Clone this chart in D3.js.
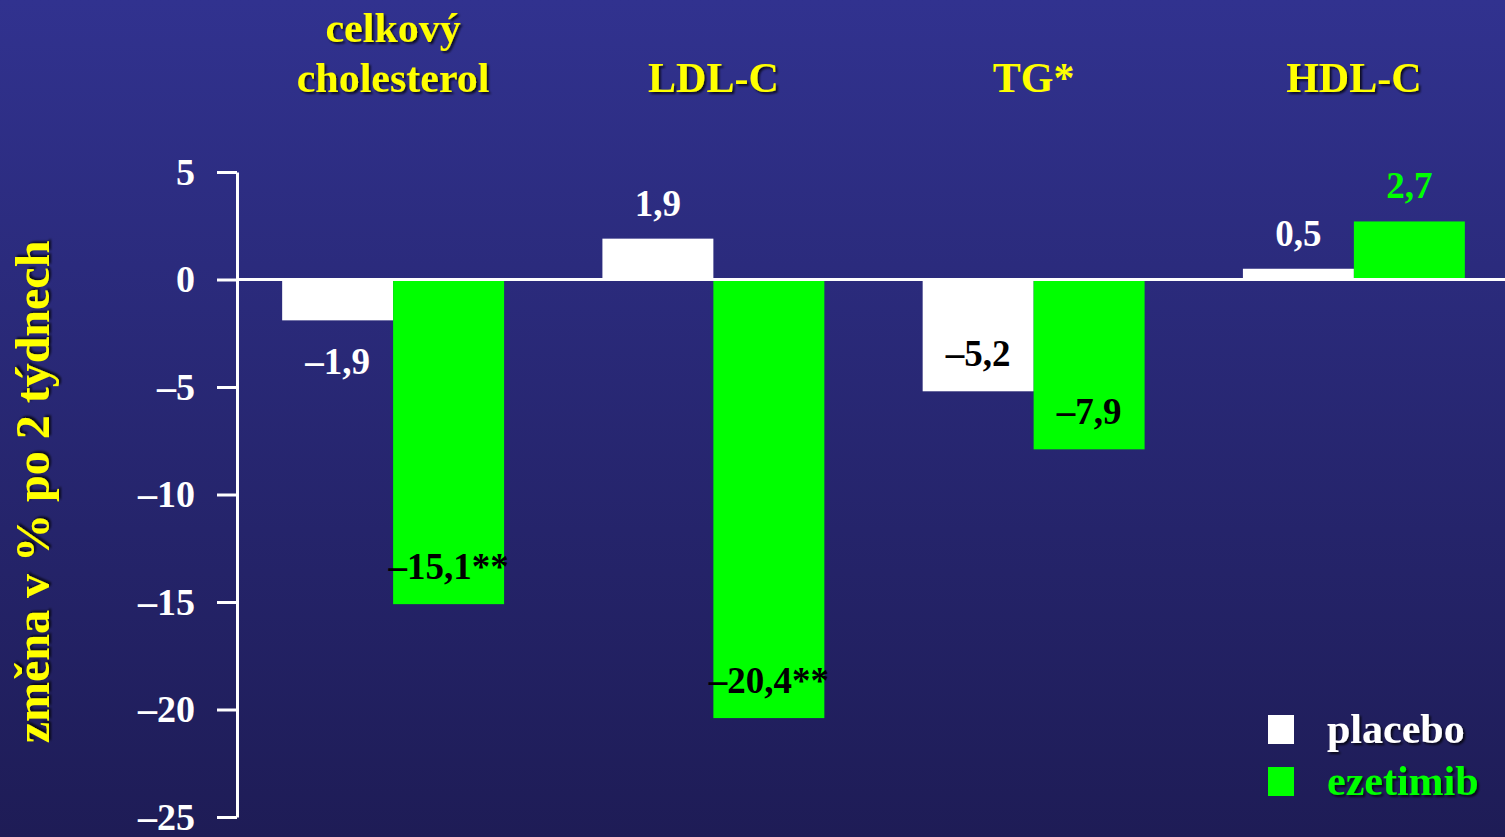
<!DOCTYPE html>
<html>
<head>
<meta charset="utf-8">
<script src="https://cdn.jsdelivr.net/npm/d3@7"></script>
<style>
  html, body { margin: 0; padding: 0; background: #1f1d58; overflow: hidden; }
  svg { display: block; }
  text { font-family: "Liberation Serif", "Times New Roman", serif; font-weight: bold; }
</style>
</head>
<body>
<svg id="chart" width="1505" height="837"></svg>
<script>
// ---- data ----
const categories = ["celkový cholesterol", "LDL-C", "TG*", "HDL-C"];
const seriesNames = ["placebo", "ezetimib"];
const placeboValues = [-1.9, 1.9, -5.2, 0.5];
const ezetimibValues = [-15.1, -20.4, -7.9, 2.7];
const ezetimibSignificance = ["**", "**", "", ""];
const placeboSignificance = ["", "", "", ""];
const yTicks = [5, 0, -5, -10, -15, -20, -25];
const yTitle = "změna v % po 2 týdnech";

// ---- setup ----
const W = 1505, H = 837;
const svg = d3.select("#chart");
const colors = { placebo: "#ffffff", ezetimib: "#00ff00" };
const labelColor = "#ffff00";

const defs = svg.append("defs");
const grad = defs.append("linearGradient").attr("id", "bg").attr("x1", 0).attr("y1", 0).attr("x2", 0).attr("y2", 1);
grad.append("stop").attr("offset", "0%").attr("stop-color", "#31328f");
grad.append("stop").attr("offset", "100%").attr("stop-color", "#1e1c56");
const filt = defs.append("filter").attr("id", "shadow").attr("x", "-10%").attr("y", "-20%").attr("width", "130%").attr("height", "150%");
filt.append("feDropShadow").attr("dx", 2).attr("dy", 2).attr("stdDeviation", 1)
  .attr("flood-color", "#000").attr("flood-opacity", 0.75);

svg.append("rect").attr("width", W).attr("height", H).attr("fill", "url(#bg)");

const locale = d3.formatLocale({ decimal: ",", thousands: " ", grouping: [3], currency: ["", " Kč"], minus: "\u2013" });
const fmtVal = locale.format(".1f");
const fmtTick = locale.format("d");

// scales
const y = d3.scaleLinear().domain([-25, 5]).range([817, 172]);
const x0 = d3.scaleBand().domain(categories).range([233, 1514]).paddingInner(0.307).paddingOuter(0.1535);
const x1 = d3.scaleBand().domain(seriesNames).range([0, x0.bandwidth()]).padding(0);

// rows
const rows = [];
categories.forEach((c, i) => {
  rows.push({ cat: c, series: "placebo", value: placeboValues[i], sig: placeboSignificance[i] });
  rows.push({ cat: c, series: "ezetimib", value: ezetimibValues[i], sig: ezetimibSignificance[i] });
});

// bars
svg.append("g").selectAll("rect").data(rows).join("rect")
  .attr("x", d => x0(d.cat) + x1(d.series))
  .attr("width", x1.bandwidth())
  .attr("y", d => Math.min(y(d.value), y(0)))
  .attr("height", d => Math.abs(y(d.value) - y(0)))
  .attr("fill", d => colors[d.series]);

// y axis
const axisG = svg.append("g").attr("transform", "translate(237,0)")
  .call(d3.axisLeft(y).tickValues(yTicks).tickFormat(fmtTick).tickSize(20).tickSizeOuter(0).tickPadding(22));
axisG.select(".domain").attr("stroke", "#fff").attr("stroke-width", 3);
axisG.selectAll(".tick line").attr("stroke", "#fff").attr("stroke-width", 3);
axisG.selectAll(".tick text").attr("fill", "#fff").attr("font-size", 38)
  .attr("font-family", "'Liberation Serif', 'Times New Roman', serif").attr("font-weight", "bold");

// zero line
svg.append("line").attr("x1", 237).attr("x2", W).attr("y1", y(0)).attr("y2", y(0))
  .attr("stroke", "#fff").attr("stroke-width", 3);

// value labels
svg.append("g").selectAll("text").data(rows).join("text")
  .attr("text-anchor", "middle")
  .attr("font-size", 37)
  .attr("x", d => x0(d.cat) + x1(d.series) + x1.bandwidth() / 2)
  .attr("y", d => {
    const len = Math.abs(y(d.value) - y(0));
    if (d.value >= 0) return y(d.value) - 23;
    if (len > 60) return y(d.value) - 25;
    return y(d.value) + 54;
  })
  .attr("fill", d => {
    const len = Math.abs(y(d.value) - y(0));
    const inside = d.value < 0 && len > 60;
    return inside ? "#000" : colors[d.series];
  })
  .text(d => fmtVal(d.value) + d.sig);

// category labels
const catG = svg.append("g");
categories.forEach(c => {
  const lines = c.split(" ");
  const t = catG.append("text").attr("text-anchor", "middle").attr("font-size", 42)
    .attr("fill", labelColor).attr("filter", c === "TG*" ? null : "url(#shadow)");
  lines.forEach((ln, j) => {
    t.append("tspan").attr("x", x0(c) + x0.bandwidth() / 2)
      .attr("y", 92 - (lines.length - 1 - j) * 50).text(ln);
  });
});

// y title
svg.append("text").attr("text-anchor", "middle").attr("font-size", 48)
  .attr("fill", labelColor).attr("filter", "url(#shadow)")
  .attr("transform", "translate(49,492) rotate(-90)")
  .text(yTitle);

// legend
const legend = svg.append("g");
seriesNames.forEach((s, i) => {
  const ly = 715 + i * 52;
  legend.append("rect").attr("x", 1268).attr("y", ly).attr("width", 26).attr("height", 29).attr("fill", colors[s]);
  legend.append("text").attr("x", 1327).attr("y", ly + 28).attr("font-size", 42)
    .attr("fill", colors[s]).attr("filter", "url(#shadow)").text(s);
});
</script>
</body>
</html>
